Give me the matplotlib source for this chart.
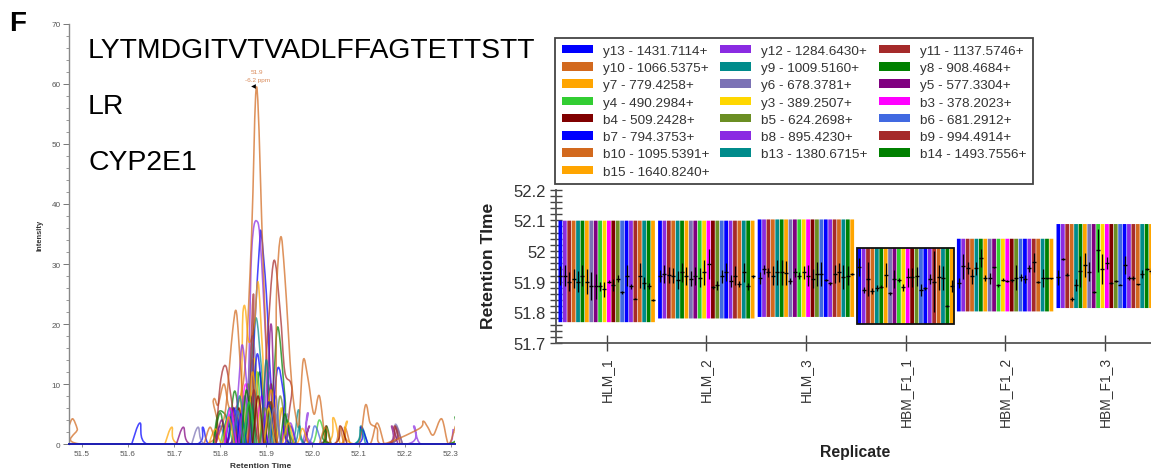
import matplotlib
matplotlib.use("Agg")
import matplotlib.pyplot as plt
import numpy as np
from matplotlib.path import Path
from matplotlib.patches import PathPatch, Patch, Rectangle

plt.rcParams['font.family'] = ['Liberation Sans', 'DejaVu Sans']

ion_labels = ["y13 - 1431.7114+", "y12 - 1284.6430+", "y11 - 1137.5746+", "y10 - 1066.5375+",
              "y9 - 1009.5160+", "y8 - 908.4684+", "y7 - 779.4258+", "y6 - 678.3781+",
              "y5 - 577.3304+", "y4 - 490.2984+", "y3 - 389.2507+", "b3 - 378.2023+",
              "b4 - 509.2428+", "b5 - 624.2698+", "b6 - 681.2912+", "b7 - 794.3753+",
              "b8 - 895.4230+", "b9 - 994.4914+", "b10 - 1095.5391+", "b13 - 1380.6715+",
              "b14 - 1493.7556+", "b15 - 1640.8240+"]
ion_colors = ["#0000FF", "#8A2BE2", "#A52A2A", "#D2691E", "#008B8B", "#008000", "#FFA500", "#7B72B5",
              "#800080", "#32CD32", "#FFD700", "#FF00FF", "#800000", "#6B8E23", "#4169E1", "#0000FF",
              "#8A2BE2", "#A52A2A", "#D2691E", "#008B8B", "#008000", "#FFA500"]

# Chromatogram traces: retention time / intensity, one pair per ion
y13_rt = [51.608, 51.626, 51.641, 51.75, 51.762, 51.775, 51.815, 51.828, 51.84, 51.862, 51.875, 51.885, 51.889, 51.9, 51.91, 51.925, 51.94, 51.952, 51.965]
y13_i = [0, 3.5, 0, 0, 2.8, 0, 0, 6, 0, 0, 20, 33, 35, 25, 10, 0, 0, 3, 0]
y12_rt = [51.79, 51.805, 51.82, 51.855, 51.868, 51.881, 51.89, 51.9, 51.912, 51.975, 51.99, 52.005, 52.205, 52.22, 52.235, 52.295, 52.305]
y12_i = [0, 3, 0, 0, 32, 37, 30, 15, 0, 0, 5.2, 0, 0, 3, 0, 0, 2.5]
y11_rt = [51.815, 51.83, 51.845, 51.885, 51.9, 51.916, 51.93, 51.94, 51.955, 51.965, 52.165, 52.18, 52.195]
y11_i = [0, 4, 0, 0, 15, 30.5, 22, 12, 9.5, 0, 0, 3, 0]
y10_rt = [51.472, 51.48, 51.49, 51.497, 51.77, 51.785, 51.795, 51.808, 51.82, 51.84, 51.855, 51.868, 51.879, 51.893, 51.905, 51.92, 51.935, 51.95, 52.06, 52.07, 52.082, 52.09, 52.1, 52.125, 52.14, 52.155]
y10_i = [3, 4.2, 2.5, 0, 0, 7.3, 6.5, 10, 6, 7, 14, 35, 59.5, 30, 8, 0, 6, 0, 0, 2.8, 0, 0, 0, 0, 3.5, 0]
y9_rt = [51.81, 51.825, 51.84, 51.855, 51.868, 51.878, 51.89, 51.905, 51.955, 51.97, 51.985, 52.09, 52.105, 52.12]
y9_i = [0, 5, 0, 0, 14, 21, 12, 0, 0, 5.7, 0, 0, 3, 0]
y8_rt = [51.785, 51.795, 51.81, 51.82, 51.832, 51.85, 51.87, 51.885, 51.9, 51.915, 51.925, 51.94, 51.95, 52.02, 52.03, 52.04]
y8_i = [0, 5.1, 5, 3, 8.8, 0, 0, 12, 0, 10, 19.5, 8, 0, 0, 3, 0]
y7_rt = [51.68, 51.695, 51.71, 51.83, 51.85, 51.862, 51.874, 51.882, 51.892, 51.905, 52.03, 52.045, 52.06, 52.065, 52.075, 52.09, 52.295, 52.31]
y7_i = [0, 2.8, 0, 0, 22.5, 17, 20, 27, 15, 0, 0, 4.4, 0, 0, 3.8, 0, 0, 2]
y6_rt = [51.738, 51.752, 51.766, 51.84, 51.858, 51.87, 51.882, 51.895, 51.93, 51.945, 51.96, 52.165, 52.18, 52.195]
y6_i = [0, 2.8, 0, 0, 8, 18, 8, 0, 0, 5, 0, 0, 3.3, 0]
y5_rt = [51.705, 51.72, 51.735, 51.82, 51.835, 51.85, 51.895, 51.91, 51.925, 51.978, 51.993, 52.0, 52.16, 52.172, 52.185]
y5_i = [0, 2.8, 0, 0, 5, 0, 0, 20, 0, 0, 3, 0, 0, 3, 0]
y4_rt = [51.8, 51.815, 51.83, 51.865, 51.88, 51.895, 51.93, 51.945, 51.96, 52.0, 52.015, 52.03]
y4_i = [0, 4, 0, 0, 12, 0, 0, 4, 0, 0, 4, 0]
y3_rt = [51.845, 51.858, 51.87, 51.875, 51.89, 51.905, 51.92, 51.932, 51.945]
y3_i = [0, 6, 9, 14, 0, 0, 0, 6, 0]
b3_rt = [51.84, 51.855, 51.87, 51.875, 51.89, 51.905, 51.93, 51.94, 51.955]
b3_i = [0, 10, 0, 0, 8, 0, 0, 3, 0]
b4_rt = [51.825, 51.84, 51.855, 51.895, 51.91, 51.925, 52.045, 52.06, 52.075]
b4_i = [0, 6, 0, 0, 10, 0, 0, 3, 0]
b5_rt = [51.845, 51.86, 51.875, 51.915, 51.93, 51.945]
b5_i = [0, 10, 0, 0, 8, 0]
b6_rt = [51.785, 51.8, 51.815, 51.855, 51.87, 51.885, 51.905, 51.92, 51.935, 51.99, 52.005, 52.02]
b6_i = [0, 3, 0, 0, 14, 0, 0, 8, 0, 0, 3, 0]
b7_rt = [51.815, 51.83, 51.845, 51.865, 51.88, 51.895, 51.908, 51.924, 51.938, 51.952, 52.095, 52.105, 52.12]
b7_i = [0, 6, 0, 0, 15, 4, 0, 12.5, 8, 0, 0, 2.8, 0]
b8_rt = [51.83, 51.84, 51.848, 51.86, 51.872, 51.89, 51.905, 51.92, 51.94, 51.952, 51.965]
b8_i = [0, 10, 16.5, 8, 0, 0, 12, 0, 0, 3.5, 0]
b9_rt = [51.79, 51.8, 51.812, 51.825, 51.84, 51.86, 51.872, 51.885, 52.015, 52.03, 52.04, 52.165, 52.178, 52.19]
b9_i = [0, 10, 13, 7, 0, 0, 25, 0, 0, 3, 0, 0, 3, 0]
b10_rt = [51.79, 51.81, 51.82, 51.827, 51.835, 51.845, 51.86, 51.915, 51.922, 51.931, 51.94, 51.955, 51.968, 51.972, 51.98, 51.99, 52.003, 52.015, 52.03, 52.05, 52.06, 52.07, 52.1, 52.115, 52.125, 52.14, 52.15, 52.23, 52.24, 52.25, 52.262, 52.28, 52.295, 52.31]
b10_i = [0, 5, 13, 19, 22, 12, 0, 0, 25, 34.5, 28, 10, 3, 5, 14, 11, 5, 8, 0, 0, 2.8, 0, 0, 6.5, 3.5, 2.6, 0, 2.5, 3.8, 2.8, 1.5, 4.2, 0, 3]
b13_rt = [51.805, 51.82, 51.835, 51.885, 51.9, 51.915, 51.96, 51.972, 51.985, 52.09, 52.105, 52.115]
b13_i = [0, 6, 0, 0, 14, 0, 0, 3, 0, 0, 2.5, 0]
b14_rt = [51.785, 51.8, 51.815, 51.85, 51.865, 51.88, 51.895, 51.91, 51.925, 52.02, 52.03, 52.045, 52.295, 52.309]
b14_i = [0, 5.2, 0, 0, 8, 0, 0, 7, 0, 0, 2.8, 0, 0, 4.6]
b15_rt = [51.775, 51.79, 51.805, 51.855, 51.87, 51.885, 51.895, 51.91, 51.925, 51.965, 51.978, 51.99]
b15_i = [0, 2.5, 0, 0, 12, 0, 0, 9, 0, 0, 2.6, 0]

trace_rt = [y13_rt, y12_rt, y11_rt, y10_rt, y9_rt, y8_rt, y7_rt, y6_rt, y5_rt, y4_rt, y3_rt,
            b3_rt, b4_rt, b5_rt, b6_rt, b7_rt, b8_rt, b9_rt, b10_rt, b13_rt, b14_rt, b15_rt]
trace_i = [y13_i, y12_i, y11_i, y10_i, y9_i, y8_i, y7_i, y6_i, y5_i, y4_i, y3_i,
           b3_i, b4_i, b5_i, b6_i, b7_i, b8_i, b9_i, b10_i, b13_i, b14_i, b15_i]

# Low-level peaks crowding the foot of the elution, same ion colour index
minor_ion = [0, 15, 1, 16, 2, 17, 4, 19, 5, 20, 8, 11, 9, 10, 14, 13, 12, 7, 6, 21, 3, 18]
minor_rt = [[51.835, 51.845, 51.857], [51.895, 51.905, 51.918], [51.84, 51.853, 51.866], [51.81, 51.822, 51.835],
            [51.86, 51.873, 51.885], [51.895, 51.91, 51.922], [51.83, 51.842, 51.855], [51.85, 51.862, 51.875],
            [51.845, 51.857, 51.87], [51.93, 51.94, 51.953], [51.79, 51.803, 51.815], [51.81, 51.822, 51.835],
            [51.85, 51.863, 51.875], [51.895, 51.905, 51.918], [51.825, 51.838, 51.85], [51.885, 51.897, 51.91],
            [51.87, 51.882, 51.895], [51.905, 51.917, 51.93], [51.805, 51.818, 51.83], [51.935, 51.948, 51.96],
            [51.765, 51.778, 51.79], [52.015, 52.028, 52.04]]
minor_i = [[0, 5, 0], [0, 7, 0], [0, 8, 0], [0, 5, 0],
           [0, 9, 0], [0, 7, 0], [0, 8, 0], [0, 7, 0],
           [0, 9, 0], [0, 5, 0], [0, 4, 0], [0, 6, 0],
           [0, 7, 0], [0, 6, 0], [0, 5.5, 0], [0, 6, 0],
           [0, 8, 0], [0, 6, 0], [0, 4.5, 0], [0, 3.5, 0],
           [0, 2.8, 0], [0, 2.8, 0]]

# Retention-time replicate panel
replicates = ["HLM_1", "HLM_2", "HLM_3", "HBM_F1_1", "HBM_F1_2", "HBM_F1_3"]
range_low = [51.768, 51.78, 51.785, 51.762, 51.803, 51.814]
range_high = [52.099, 52.099, 52.103, 52.01, 52.04, 52.088]
hlm1_c = [51.92, 51.92, 51.90, 51.91, 51.90, 51.92, 51.90, 51.885, 51.885, 51.885, 51.875, 51.90, 51.89, 51.91, 51.865, 51.92, 51.885, 51.845, 51.92, 51.895, 51.885, 51.84]
hlm1_e = [.03, .035, .03, .03, .035, .035, .04, .045, .04, .015, .025, .005, .02, .012, .005, .035, .008, .003, .04, .02, .01, .002]
hlm2_c = [51.918, 51.925, 51.922, 51.92, 51.905, 51.93, 51.918, 51.91, 51.918, 51.913, 51.93, 51.958, 51.882, 51.888, 51.917, 51.932, 51.903, 51.92, 51.893, 51.93, 51.885, 51.917]
hlm2_e = [.02, .03, .025, .025, .03, .03, .03, .025, .03, .03, .04, .05, .005, .015, .02, .03, .02, .03, .01, .03, .012, .004]
hlm3_c = [51.913, 51.94, 51.93, 51.92, 51.93, 51.93, 51.928, 51.902, 51.93, 51.92, 51.93, 51.92, 51.91, 51.925, 51.925, 51.905, 51.895, 51.925, 51.93, 51.915, 51.92, 51.925]
hlm3_e = [.02, .015, .015, .03, .04, .04, .04, .01, .015, .01, .02, .035, .03, .04, .04, .003, .005, .03, .03, .04, .03, .002]
f11_c = [51.947, 51.874, 51.909, 51.871, 51.88, 51.884, 51.922, 51.862, 51.909, 51.905, 51.882, 51.914, 51.914, 51.917, 51.874, 51.878, 51.909, 51.9, 51.914, 51.912, 51.82, 51.885]
f11_e = [.03, .01, .055, .01, .01, .006, .04, .005, .03, .006, .012, .03, .03, .03, .02, .006, .015, .1, .04, .04, .003, .02]
f12_c = [51.896, 51.95, 51.945, 51.917, 51.943, 51.977, 51.912, 51.911, 51.947, 51.889, 51.907, 51.902, 51.905, 51.913, 51.914, 51.909, 51.943, 51.963, 51.898, 51.912, 51.911, 51.911]
f12_e = [.015, .04, .02, .025, .02, .03, .01, .018, .002, .005, .005, .003, .005, .04, .012, .012, .01, .03, .003, .03, .002, .002]
f13_c = [51.914, 51.974, 51.923, 51.843, 51.889, 51.934, 51.954, 51.933, 51.865, 52.003, 51.941, 51.96, 51.896, 51.902, 51.89, 51.954, 51.911, 51.911, 51.891, 51.925, 51.941, 51.935]
f13_e = [.025, .002, .005, .007, .02, .05, .04, .03, .003, .07, .05, .02, .002, .003, .002, .03, .006, .006, .003, .012, .002, .01]
rep_centres = [hlm1_c, hlm2_c, hlm3_c, f11_c, f12_c, f13_c]
rep_errors = [hlm1_e, hlm2_e, hlm3_e, f11_e, f12_e, f13_e]

W, H = 1151, 477
fig = plt.figure(figsize=(W / 100, H / 100), dpi=100)


def px_axes(x0, x1, ytop, ybot):
    return fig.add_axes([x0 / W, 1 - ybot / H, (x1 - x0) / W, (ybot - ytop) / H])


def smooth_path(xs, ys):
    p = np.column_stack([xs, ys]).astype(float)
    verts, codes = [p[0]], [Path.MOVETO]
    for k in range(len(p) - 1):
        a = p[max(k - 1, 0)]
        b, c = p[k], p[k + 1]
        d = p[min(k + 2, len(p) - 1)]
        verts += [b + (c - a) / 6, c - (d - b) / 6, c]
        codes += [Path.CURVE4] * 3
    return Path(np.array(verts), codes)


# ---------- left: chromatogram ----------
ax = px_axes(69, 455, 25, 445)
ax.set_xlim(51.472, 52.309)
ax.set_ylim(0, 70)
for rt, inten, col in zip(trace_rt, trace_i, ion_colors):
    ax.add_patch(PathPatch(smooth_path(rt, inten), fill=False, edgecolor=col, lw=1.15, alpha=0.72, joinstyle='round'))
for k, rt, inten in zip(minor_ion, minor_rt, minor_i):
    ax.add_patch(PathPatch(smooth_path(rt, inten), fill=False, edgecolor=ion_colors[k], lw=1.15, alpha=0.72, joinstyle='round'))
ax.plot([51.472, 52.309], [0, 0], color="#1a1ab0", lw=1.4, clip_on=False, zorder=5)
for s in ['top', 'right', 'bottom']:
    ax.spines[s].set_visible(False)
ax.spines['left'].set_color('#888888')
ax.spines['left'].set_linewidth(1.0)
ax.set_xticks(np.arange(51.5, 52.31, 0.1))
ax.set_xticklabels(["51.5", "51.6", "51.7", "51.8", "51.9", "52.0", "52.1", "52.2", "52.3"])
ax.set_yticks(range(0, 71, 10))
ax.set_yticks(range(0, 71, 2), minor=True)
ax.tick_params(axis='x', length=2, width=0.6, color='#777777', labelsize=5.9, labelcolor='#555555', pad=2.5)
ax.tick_params(axis='y', which='major', length=4, width=0.7, color='#777777', labelsize=5.9, labelcolor='#555555', pad=2)
ax.tick_params(axis='y', which='minor', length=2, width=0.6, color='#888888')
fig.text(261 / W, 1 - 467 / H, "Retention Time", fontsize=6, fontweight='bold', color='#333333', ha='center', va='center')
fig.text(40.5 / W, 1 - 235 / H, "Intensity", fontsize=5.4, fontweight='bold', color='#333333', rotation=90, ha='center', va='center')
ax.text(51.88, 62.0, "51.9", fontsize=4.6, color="#D98A5A", ha='center', va='center')
ax.text(51.88, 60.7, "-6.2 ppm", fontsize=4.6, color="#D98A5A", ha='center', va='center')
ax.plot([51.871], [59.6], marker='<', ms=3.4, color='black', mew=0, clip_on=False)

fig.text(88 / W, 1 - 58 / H, "LYTMDGITVTVADLFFAGTETTSTT", fontsize=20.45, color='black', ha='left', va='baseline')
fig.text(88 / W, 1 - 113.5 / H, "LR", fontsize=20.45, color='black', ha='left', va='baseline')
fig.text(88 / W, 1 - 170 / H, "CYP2E1", fontsize=20.45, color='black', ha='left', va='baseline')
fig.text(9 / W, 1 - 31 / H, "F", fontsize=20, fontweight='bold', color='black', ha='left', va='baseline')

# ---------- right: replicate panel ----------
bx = px_axes(556, 1151, 190.7, 344)
tick_px = 99.6
bx.set_xlim(1 - (606.7 - 556) / tick_px, 6 + (1151 - 1104.7) / tick_px)
bx.set_ylim(51.7, 52.2)
n = len(ion_labels)
step = 97 / tick_px / n
for r in range(len(replicates)):
    xpos = (r + 1) + (np.arange(n) - (n - 1) / 2) * step
    cont = bx.bar(xpos, range_high[r] - range_low[r], bottom=range_low[r], width=step * 0.86, color=ion_colors, linewidth=0, zorder=2)
    for patch in cont:
        patch.set_snap(False)
    bx.errorbar(xpos, rep_centres[r], yerr=rep_errors[r], fmt='_', ms=3.5, mew=1.0, color='black', ecolor='black', elinewidth=0.9, capsize=0, zorder=3)
sel = replicates.index("HBM_F1_1")
bx.add_patch(Rectangle((sel + 1 - n * step / 2, range_low[sel]), n * step, range_high[sel] - range_low[sel],
                       fill=False, edgecolor='#111111', lw=1.3, zorder=4))
for s in ['top', 'right']:
    bx.spines[s].set_visible(False)
for s in ['left', 'bottom']:
    bx.spines[s].set_color('#555555')
    bx.spines[s].set_linewidth(1.3)
bx.set_xticks(range(1, 7))
bx.set_xticklabels(replicates, rotation=90, fontsize=10, color='#333333')
bx.set_yticks([51.7, 51.8, 51.9, 52.0, 52.1, 52.2])
bx.set_yticklabels(["51.7", "51.8", "51.9", "52", "52.1", "52.2"], fontsize=12, color='#333333')
bx.set_yticks(np.arange(51.7, 52.201, 0.02), minor=True)
bx.tick_params(axis='x', direction='inout', length=11, width=1.0, color='#444444', pad=4)
bx.tick_params(axis='y', which='major', direction='inout', length=9, width=1.0, color='#444444', pad=3)
bx.tick_params(axis='y', which='minor', direction='inout', length=9, width=1.0, color='#444444')
fig.text(488.5 / W, 1 - 266 / H, "Retention TIme", fontsize=12.6, fontweight='bold', color='#222222', rotation=90, ha='center', va='center')
fig.text(855 / W, 1 - 453 / H, "Replicate", fontsize=11.3, fontweight='bold', color='#222222', ha='center', va='center')

# legend: filled column by column
rows = [list(range(i, n, 3)) for i in range(3)]
order = [i for col in rows for i in col]
handles = [Patch(facecolor=ion_colors[i], edgecolor='none', label=ion_labels[i]) for i in order]
leg = fig.legend(handles=handles, ncol=3, loc='upper left', bbox_to_anchor=(555 / W, 1 - 39 / H),
                 bbox_transform=fig.transFigure, fontsize=9.7, frameon=True, fancybox=False,
                 edgecolor='#444444', framealpha=1, borderaxespad=0, borderpad=0.5,
                 handlelength=2.3, handleheight=0.6, handletextpad=0.74, columnspacing=0.82,
                 labelspacing=0.39, labelcolor='#333333')
leg.get_frame().set_linewidth(1.3)

fig.savefig("out.png", dpi=100)
